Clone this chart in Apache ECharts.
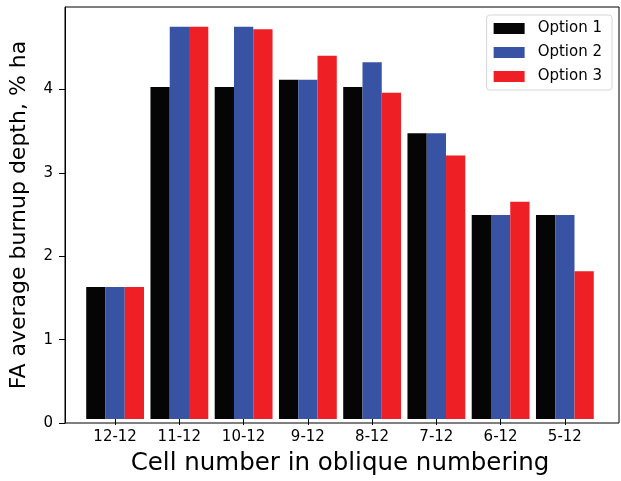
<!DOCTYPE html>
<html>
<head>
<meta charset="utf-8">
<script src="https://cdn.jsdelivr.net/npm/echarts@6/dist/echarts.min.js"></script>
<style>
  html, body { margin: 0; padding: 0; background: #fff; }
  #chart { width: 621px; height: 481px; }
</style>
</head>
<body>
<div id="chart"></div>
<script>
// data
const categories = ['12-12', '11-12', '10-12', '9-12', '8-12', '7-12', '6-12', '5-12']
const option1 = [1.6, 4.02, 4.02, 4.11, 4.02, 3.46, 2.47, 2.47]
const option2 = [1.6, 4.75, 4.75, 4.11, 4.32, 3.46, 2.47, 2.47]
const option3 = [1.6, 4.75, 4.72, 4.4, 3.95, 3.19, 2.63, 1.79]
const seriesNames = ['Option 1', 'Option 2', 'Option 3']
const yTicks = [0, 1, 2, 3, 4]
const yMax = 4.99

const font = 'DejaVu Sans'
const chart = echarts.init(document.getElementById('chart'))

const option = {
    animation: false,
    color: ['#050505', '#3953A4', '#EE1F25'],
    textStyle: { fontFamily: font },
    // grid 0 = frame + y axis, grid 1 = bars (matplotlib x margins)
    grid: [
        { left: 61, right: 2, top: 7, bottom: 58, show: true, borderColor: '#000', borderWidth: 1, backgroundColor: 'transparent' },
        { left: 83, right: 24, top: 7, bottom: 58 }
    ],
    legend: {
        data: seriesNames,
        orient: 'vertical',
        right: 9,
        top: 15,
        itemWidth: 31,
        itemHeight: 11,
        itemGap: 9,
        padding: [6, 10, 6, 7],
        backgroundColor: '#fff',
        borderColor: '#d6d6d6',
        borderWidth: 1,
        borderRadius: 3,
        icon: 'rect',
        textStyle: { fontFamily: font, fontSize: 15, color: '#000', padding: [0, 0, 0, 8] }
    },
    xAxis: [
        { gridIndex: 0, type: 'value', show: false, min: 0, max: 1 },
        {
            gridIndex: 1,
            type: 'category',
            data: categories,
            axisLine: { show: false },
            axisTick: { show: true, alignWithLabel: true, inside: false, length: 6, lineStyle: { color: '#000' } },
            axisLabel: { fontFamily: font, fontSize: 15, color: '#000', margin: 11 },
            name: 'Cell number in oblique numbering',
            nameLocation: 'middle',
            nameGap: 32,
            nameTextStyle: { fontFamily: font, fontSize: 24.5, color: '#000', verticalAlign: 'top' }
        }
    ],
    yAxis: [
        {
            gridIndex: 0,
            type: 'value',
            min: 0,
            max: yMax,
            interval: 1,
            axisLine: { show: true, lineStyle: { color: '#000' } },
            axisTick: { show: true, inside: false, length: 6, customValues: yTicks, lineStyle: { color: '#000' } },
            splitLine: { show: false },
            axisLabel: { fontFamily: font, fontSize: 15, color: '#000', margin: 12, customValues: yTicks },
            name: 'FA average burnup depth, % ha',
            nameLocation: 'middle',
            nameGap: 35,
            nameTextStyle: { fontFamily: font, fontSize: 22, color: '#000' }
        },
        { gridIndex: 1, type: 'value', min: 0, max: yMax, show: false }
    ],
    series: [option1, option2, option3].map((vals, i) => ({
        name: seriesNames[i],
        type: 'bar',
        xAxisIndex: 1,
        yAxisIndex: 1,
        barWidth: '30%',
        barGap: '0%',
        data: vals
    }))
}

chart.setOption(option)
</script>
</body>
</html>
